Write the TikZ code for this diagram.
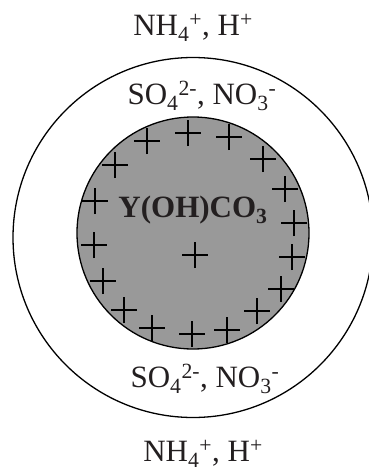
\documentclass[tikz,border=0pt]{standalone}
\usepackage{fontspec}
\setmainfont{Liberation Serif}
\definecolor{txt}{HTML}{231F20}
\definecolor{core}{HTML}{999999}
\begin{document}
\begin{tikzpicture}[x=1pt,y=-1pt,
  ion/.style={font=\fontsize{31}{31}\selectfont, text=txt, inner sep=0pt, anchor=center},
  plusmark/.style={line width=1.3pt, draw=black}]
\useasboundingbox (0,0) rectangle (369,472);
\begin{scope}
\clip (0,0) rectangle (369,472);
\node[draw=black, line width=1.3pt, circle, minimum size=360pt, inner sep=0pt] (outer) at (193,237.5) {};
\end{scope}
\node[draw=black, line width=1.3pt, fill=core, circle, minimum size=232pt, inner sep=0pt] (core) at (193,233) {};
\foreach \px/\py [count=\i] in {147/141,188/133,229/137,263/159,115/165,95/201,285/189,294/223,94/245,292/257,103/281,281/289,124/310,257/311,152/328,192/334,227/330,195/255}{
  \coordinate (p\i) at (\px,\py);
  \draw[plusmark] ([xshift=-13pt]p\i) -- ([xshift=13pt]p\i) ([yshift=-13pt]p\i) -- ([yshift=13pt]p\i);
}
\node[ion] (nhtop) at (193,28) {NH\textsubscript{4}\textsuperscript{+}, H\textsuperscript{+}};
\node[ion] (sotop) at (202,96) {SO\textsubscript{4}\textsuperscript{2-}, NO\textsubscript{3}\textsuperscript{-}};
\node[ion, font=\fontsize{31}{31}\selectfont\bfseries] (yoh) at (193,210) {Y(OH)CO\textsubscript{3}};
\node[ion] (sobot) at (205,379) {SO\textsubscript{4}\textsuperscript{2-}, NO\textsubscript{3}\textsuperscript{-}};
\node[ion] (nhbot) at (203,454) {NH\textsubscript{4}\textsuperscript{+}, H\textsuperscript{+}};
\end{tikzpicture}
\end{document}
